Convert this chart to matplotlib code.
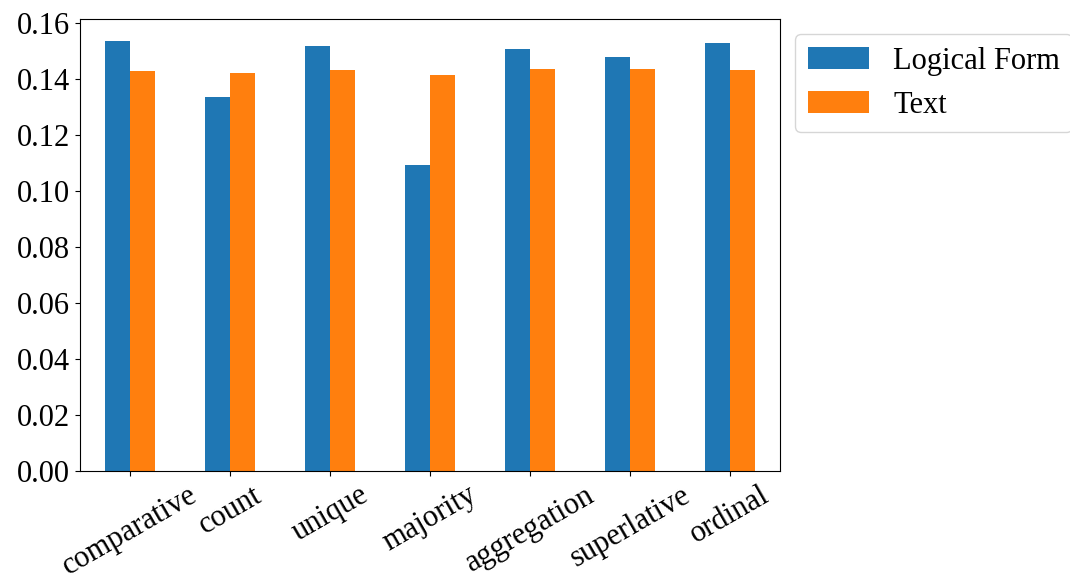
import matplotlib
matplotlib.use("Agg")
import matplotlib.pyplot as plt
import numpy as np

categories = ["comparative", "count", "unique", "majority",
              "aggregation", "superlative", "ordinal"]
logical_form = [0.1539, 0.1338, 0.1518, 0.1095, 0.1507, 0.1479, 0.1529]
text = [0.1429, 0.1424, 0.1432, 0.1417, 0.1438, 0.1436, 0.1432]

plt.rcParams["font.family"] = ["Liberation Serif", "DejaVu Serif"]
plt.rcParams["font.size"] = 22

fig = plt.figure(figsize=(10.7, 5.81), dpi=100)
ax = fig.add_axes([80 / 1070, 1 - 471 / 581, 700 / 1070, 452 / 581])

x = np.arange(len(categories))
w = 0.25
ax.bar(x - w / 2, logical_form, w, color="#1f77b4", label="Logical Form")
ax.bar(x + w / 2, text, w, color="#ff7f0e", label="Text")

ax.set_xlim(-0.5, len(categories) - 0.5)
ax.set_xticks(x)
ax.set_xticklabels(categories, rotation=30)
ax.set_yticks(np.arange(0, 0.161, 0.02))
ax.yaxis.set_major_formatter(matplotlib.ticker.FormatStrFormatter("%.2f"))

ax.legend(loc="upper left", bbox_to_anchor=(1, 1))

fig.savefig("out.png", dpi=100)
